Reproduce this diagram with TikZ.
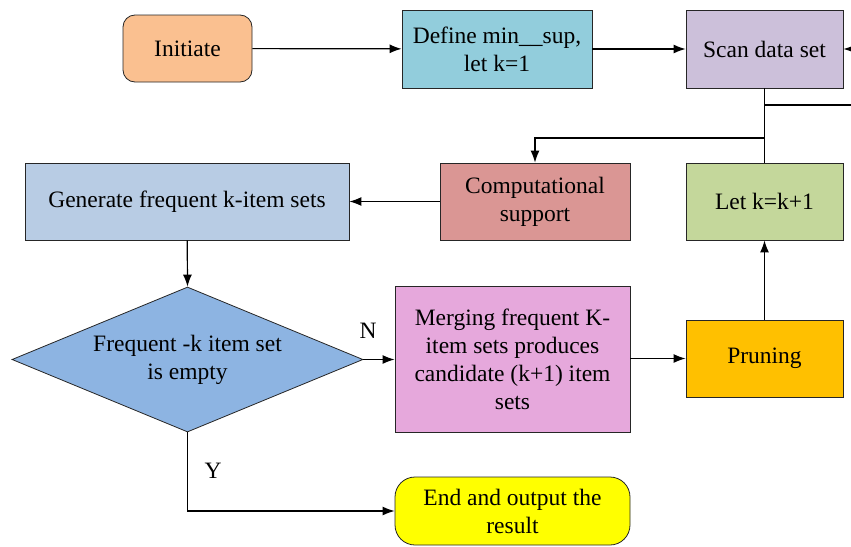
\documentclass[tikz,border=0pt]{standalone}
\usepackage{fontspec}
\setmainfont{Liberation Serif}
\usetikzlibrary{shapes.geometric,arrows.meta}

\definecolor{cInit}{HTML}{FAC090}
\definecolor{cDef}{HTML}{92CDDC}
\definecolor{cScan}{HTML}{CCC0DA}
\definecolor{cComp}{HTML}{DA9694}
\definecolor{cLetk}{HTML}{C4D79B}
\definecolor{cGen}{HTML}{B8CCE4}
\definecolor{cDia}{HTML}{8DB4E2}
\definecolor{cMerge}{HTML}{E6A8DC}
\definecolor{cPrune}{HTML}{FFC000}
\definecolor{cEnd}{HTML}{FFFF00}

\begin{document}
\begin{tikzpicture}[x=1pt,y=-1pt,
  box/.style={draw=black!85, line width=0.8pt, inner sep=0pt, align=center,
    font=\fontsize{23.5}{28}\selectfont},
  arr/.style={-{Latex[length=12pt,width=9pt]}, line width=1.2pt},
  line/.style={line width=1.2pt},
  lbl/.style={font=\fontsize{23.5}{28}\selectfont, inner sep=0pt}]

\useasboundingbox (0,0) rectangle (851,546);

% process boxes
\node[box, fill=cInit, rounded corners=12pt, minimum width=129, minimum height=67] (init) at (187.5,48.5) {Initiate};
\node[box, fill=cDef, minimum width=190, minimum height=78] (def) at (497,49) {Define min\_\_sup,\\let k=1};
\node[box, fill=cScan, minimum width=157, minimum height=78] (scan) at (764.5,49) {Scan data set};
\node[box, fill=cComp, minimum width=190, minimum height=77] (comp) at (535,201.5) {Computational\\support};
\node[box, fill=cLetk, minimum width=157, minimum height=77] (letk) at (764.5,201.5) {Let k=k+1};
\node[box, fill=cGen, minimum width=324, minimum height=77] (gen) at (187,201.5) {Generate frequent k-item sets};
\node[box, fill=cDia, shape=diamond, aspect=2.42, minimum width=351, minimum height=145] (dia) at (187.5,359.5) {Frequent -k item set\\is empty};
\node[box, fill=cMerge, minimum width=235, minimum height=146] (merge) at (512.5,359) {Merging frequent K-\\item sets produces\\candidate (k+1) item\\sets};
\node[box, fill=cPrune, minimum width=157, minimum height=77] (prune) at (764.5,358.5) {Pruning};
\node[box, fill=cEnd, rounded corners=20pt, minimum width=235, minimum height=68] (end) at (512.5,511) {End and output the\\result};

% branch labels
\node[lbl] (nlab) at (368,331) {N};
\node[lbl] (ylab) at (213,471) {Y};

% free ends at the right border
\coordinate (inR) at (851,49);
\coordinate (outR) at (851,105);
\coordinate (junc) at (764.5,138);

% connectors
\draw[arr] (init) -- (def);
\draw[arr] (def) -- (scan);
\draw[arr] (inR) -- (scan.east);
\draw[line] (letk.north) -- (scan.south);
\draw[line] (outR) -| (scan.south);
\draw[arr] (junc) -| (comp.north);
\draw[arr] (comp) -- (gen);
\draw[arr] (gen) -- (dia.north);
\draw[arr] (dia.east) -- (merge.west |- dia.east);
\draw[arr] (merge.east |- prune.west) -- (prune.west);
\draw[arr] (prune) -- (letk);
\draw[arr] (dia.south) |- (end.west);

\end{tikzpicture}
\end{document}
